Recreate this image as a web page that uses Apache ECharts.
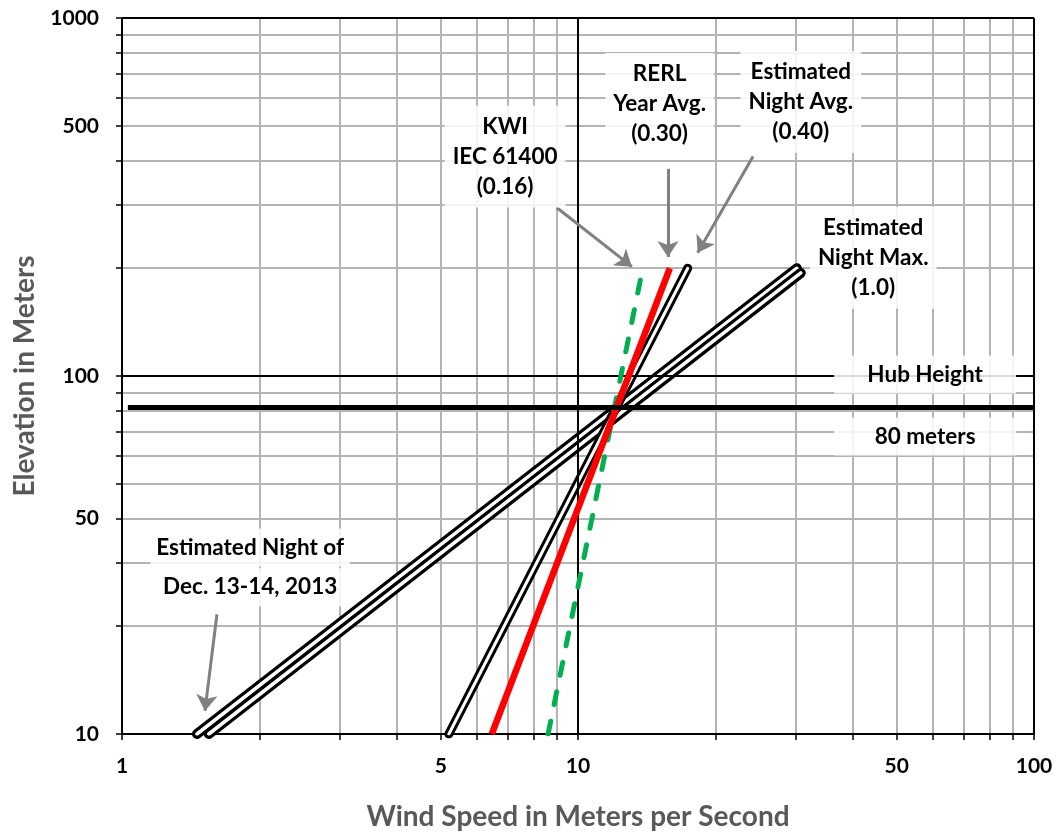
<!DOCTYPE html>
<html><head><meta charset="utf-8">
<script src="https://cdn.jsdelivr.net/npm/echarts@6/dist/echarts.min.js"></script>
<style>html,body{margin:0;padding:0;background:#fff}#chart{width:1057px;height:836px}</style>
</head><body><div id="chart"></div>
<script>
// ---- axis ticks / labels ----
const xTicks = [1,2,3,4,5,6,7,8,9,10,20,30,40,50,60,70,80,90,100];
const xTickLabels = [1,5,10,50,100];
const yTicks = [10,20,30,40,50,60,70,80,90,100,200,300,400,500,600,700,800,900,1000];
const yTickLabelPositions = [10,40,100,500,1000];
const yTickLabelTexts = ['10','50','100','500','1000'];

// ---- series data (wind speed m/s, elevation m) ----
const kwiSpeeds = [8.6, 13.8];       const kwiHeights = [10, 194];
const rerlSpeeds = [6.47, 15.9];     const rerlHeights = [10, 200];
const nightAvgSpeeds = [5.21, 17.4]; const nightAvgHeights = [10, 200];
const nightMaxSpeeds = [1.46, 30.2]; const nightMaxHeights = [10, 200];
const decSpeeds = [1.55, 30.8];      const decHeights = [10, 194];
const hubSpeeds = [1.03, 100];       const hubHeights = [81.7, 81.7];

// ---- annotations (data coordinates) ----
const annotationTexts = ['KWI\nIEC 61400\n(0.16)','RERL\nYear Avg.\n(0.30)','Estimated\nNight Avg.\n(0.40)','Estimated\nNight Max.\n(1.0)','Hub Height','80 meters','Estimated Night of','Dec. 13-14, 2013'];
const annotationAt = [[6.92,410],[15.1,575],[30.8,583],[44.4,214],[57.7,101],[57.7,67.8],[1.91,33.2],[1.91,25.7]];
const arrowFrom = [[8.99,295],[15.75,379],[24.2,410],[1.615,21.6]];
const arrowTo   = [[13.13,202],[15.75,215],[18.3,221],[1.52,11.6]];

const FONT = 'Lato';
const zip = (xs, ys) => xs.map((x, i) => [x, ys[i]]);

function outlined(name, xs, ys, outer, inner, z) {
  return [
    {name: name, type: 'line', data: zip(xs, ys), symbol: 'none', z: z, silent: true,
     lineStyle: {color: '#000', width: outer, cap: 'round'}},
    {name: name + ' inner', type: 'line', data: zip(xs, ys), symbol: 'none', z: z, silent: true,
     lineStyle: {color: '#fff', width: inner, cap: 'round'}}
  ];
}

const boxWidths = {4: 170, 5: 170};
const annData = annotationTexts.map((t, i) => {
  const multi = t.indexOf('\n') >= 0;
  const lbl = {
    show: true, position: 'inside', formatter: t, opacity: 1,
    fontFamily: FONT, fontWeight: 'bold', fontSize: 22.5, lineHeight: 30, color: '#000',
    textBorderWidth: 0, textBorderColor: 'transparent',
    backgroundColor: 'rgba(255,255,255,0.85)',
    padding: multi ? [6, 8] : [4, 6], align: 'center', verticalAlign: 'middle'
  };
  if (boxWidths[i]) lbl.width = boxWidths[i];
  return {value: annotationAt[i], label: lbl};
});

const chart = echarts.init(document.getElementById('chart'), null, {renderer: 'canvas'});
chart.setOption({
  animation: false,
  backgroundColor: '#fff',
  grid: {left: 122, right: 23, top: 18, bottom: 101, containLabel: false},
  xAxis: {
    type: 'log', logBase: 10, min: 1, max: 100,
    axisLine: {onZero: false, lineStyle: {color: '#000', width: 2}},
    axisTick: {show: true, customValues: xTicks, length: 6, lineStyle: {color: '#000', width: 1.5}},
    axisLabel: {customValues: xTickLabels, fontFamily: FONT, fontWeight: 'bold', fontSize: 21, color: '#000', margin: 22},
    splitLine: {show: true, lineStyle: {color: '#b4b4b4', width: 2}},
    name: 'Wind Speed in Meters per Second', nameLocation: 'middle', nameGap: 69,
    nameTextStyle: {fontFamily: FONT, fontWeight: 'bold', fontSize: 28, color: '#595959'}
  },
  yAxis: {
    type: 'log', logBase: 10, min: 10, max: 1000,
    axisLine: {onZero: false, lineStyle: {color: '#000', width: 2}},
    axisTick: {show: true, customValues: yTicks, length: 6, lineStyle: {color: '#000', width: 1.5}},
    axisLabel: {customValues: yTickLabelPositions, fontFamily: FONT, fontWeight: 'bold', fontSize: 21, color: '#000', margin: 23,
      formatter: v => { const i = yTickLabelPositions.indexOf(Math.round(v)); return i >= 0 ? yTickLabelTexts[i] : ''; }},
    splitLine: {show: true, lineStyle: {color: '#b4b4b4', width: 2}},
    name: 'Elevation in Meters', nameLocation: 'middle', nameGap: 75,
    nameTextStyle: {fontFamily: FONT, fontWeight: 'bold', fontSize: 28, color: '#595959'}
  },
  series: [
    {name: 'frame', type: 'line', data: [], z: 1, silent: true,
     markLine: {silent: true, symbol: 'none', label: {show: false},
       lineStyle: {color: '#000', width: 2, type: 'solid'},
       data: [{xAxis: 10}, {xAxis: 100}, {yAxis: 100}, {yAxis: 1000}]}},
    ...outlined('Estimated Night Max. (1.0)', nightMaxSpeeds, nightMaxHeights, 10, 3.5, 3),
    ...outlined('Estimated Night of Dec. 13-14, 2013', decSpeeds, decHeights, 10, 3.5, 3),
    ...outlined('Estimated Night Avg. (0.40)', nightAvgSpeeds, nightAvgHeights, 9, 3, 4),
    {name: 'KWI IEC 61400 (0.16)', type: 'line', data: zip(kwiSpeeds, kwiHeights), symbol: 'none', z: 5, silent: true,
     lineStyle: {color: '#00b050', width: 5, type: [13, 17], cap: 'round'}},
    {name: 'RERL Year Avg. (0.30)', type: 'line', data: zip(rerlSpeeds, rerlHeights), symbol: 'none', z: 6, silent: true,
     lineStyle: {color: '#ff0000', width: 6.5, cap: 'butt'}},
    {name: 'Hub Height 80 meters', type: 'line', data: zip(hubSpeeds, hubHeights), symbol: 'none', z: 7, silent: true, clip: false,
     lineStyle: {color: '#000', width: 5}},
    {name: 'annotations', type: 'scatter', data: annData, symbolSize: 1, z: 10, silent: true,
     itemStyle: {color: 'rgba(0,0,0,0)', opacity: 1},
     markLine: {silent: true, symbol: ['none', 'arrow'], symbolSize: 16, label: {show: false},
       lineStyle: {color: '#808080', width: 3, type: 'solid', opacity: 1},
       data: arrowFrom.map((f, i) => [{coord: f}, {coord: arrowTo[i]}])}}
  ]
});
</script></body></html>
